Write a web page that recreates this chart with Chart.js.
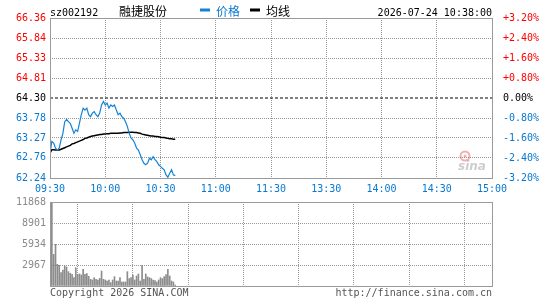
<!DOCTYPE html>
<html><head><meta charset="utf-8">
<script src="https://cdn.jsdelivr.net/npm/chart.js@4/dist/chart.umd.min.js"></script>
<style>
html,body{margin:0;padding:0;background:#fff;}
#wrap{position:relative;width:545px;height:300px;overflow:hidden;}
canvas{position:absolute;left:0;top:0;}
</style></head><body>
<div id="wrap"><canvas id="cp" width="545" height="300"></canvas><canvas id="cv" width="545" height="300"></canvas></div>
<script>
const stockCode = 'sz002192';
const stockName = '融捷股份';
const stamp = '2026-07-24 10:38:00';
const seriesNames = ['价格', '均线'];
const prevClose = 64.30;
const priceTicks = [62.24, 62.76, 63.27, 63.78, 64.30, 64.81, 65.33, 65.84, 66.36];
const pctTicks = [-3.20, -2.40, -1.60, -0.80, 0, 0.80, 1.60, 2.40, 3.20];
const pctLabels = ['-3.20%', '-2.40%', '-1.60%', '-0.80%', '0.00%', '+0.80%', '+1.60%', '+2.40%', '+3.20%'];
const timeLabels = ['09:30', '10:00', '10:30', '11:00', '11:30', '13:30', '14:00', '14:30', '15:00'];
const timeTicks = [0, 30, 60, 90, 120, 150, 180, 210, 240];
const volTicks = [0, 2967, 5934, 8901, 11868];
const copyrightText = 'Copyright 2026 SINA.COM';
const urlText = 'http://finance.sina.com.cn';

const price = [62.88, 63.18, 63.14, 63.01, 62.96, 63.01, 63.22, 63.39, 63.69, 63.75,
  63.69, 63.65, 63.52, 63.39, 63.48, 63.44, 63.65, 63.87, 64.04, 63.99,
  64.04, 63.87, 63.82, 63.91, 63.95, 63.87, 63.82, 63.91, 64.12, 64.21,
  64.12, 64.17, 64.04, 64.12, 64.08, 64.12, 63.99, 63.87, 63.91, 63.82,
  63.78, 63.69, 63.57, 63.39, 63.27, 63.22, 63.14, 63.01, 62.96, 62.84,
  62.71, 62.62, 62.58, 62.62, 62.75, 62.71, 62.79, 62.71, 62.66, 62.58,
  62.54, 62.49, 62.45, 62.32, 62.26, 62.36, 62.45, 62.32, 62.30];
const avgPrice = [62.88, 62.97, 62.97, 62.96, 62.96, 62.96, 62.98, 63.00, 63.02, 63.04,
  63.06, 63.08, 63.12, 63.13, 63.15, 63.17, 63.19, 63.21, 63.23, 63.26,
  63.27, 63.29, 63.31, 63.32, 63.33, 63.34, 63.35, 63.36, 63.36, 63.37,
  63.37, 63.38, 63.38, 63.39, 63.39, 63.39, 63.39, 63.39, 63.40, 63.40,
  63.41, 63.41, 63.41, 63.42, 63.42, 63.42, 63.41, 63.41, 63.40, 63.39,
  63.37, 63.36, 63.35, 63.34, 63.33, 63.32, 63.32, 63.31, 63.31, 63.30,
  63.29, 63.28, 63.28, 63.27, 63.26, 63.25, 63.25, 63.24, 63.24];
const volume = [2967, 11868, 4475, 5890, 3060, 2920, 1885, 2260, 2830, 2690,
  2025, 1790, 1650, 1180, 2590, 1650, 1700, 1555, 2355, 1650,
  1745, 1365, 940, 850, 1180, 940, 850, 1085, 2120, 940,
  850, 705, 850, 470, 850, 1320, 705, 705, 1180, 565,
  565, 565, 2025, 1040, 1180, 1555, 850, 1415, 1700, 705,
  2920, 940, 1700, 1270, 1180, 1040, 850, 755, 565, 850,
  1180, 1040, 1320, 1600, 2355, 1415, 705, 565, 140];

const BLUE_TXT = '#0878d0';
const BLUE_LINE = '#1284d6';
const RED = '#ff0000';
const GRID = '#999999';
const FRAME = '#9a9a9a';
const MONO = '"DejaVu Sans Mono", "Liberation Mono", monospace';
const CJK = '"Noto Sans CJK SC", "Noto Sans", sans-serif';

Chart.defaults.font.family = MONO;
Chart.defaults.font.size = 10;

function gridStyle(yValues, skipValue) {
  return {
    color: ctx => (skipValue !== null && yValues[ctx.index] === skipValue) ? 'rgba(0,0,0,0)' : GRID,
    lineWidth: 1,
    drawTicks: false,
    drawOnChartArea: true,
    display: true
  };
}
const gridBorder = { display: false, dash: [1, 1] };

const framePlugin = {
  id: 'frame',
  afterDraw(chart) {
    const a = chart.chartArea, c = chart.ctx;
    c.save();
    c.strokeStyle = FRAME; c.lineWidth = 1; c.setLineDash([]);
    c.strokeRect(Math.round(a.left) + 0.5, Math.round(a.top) + 0.5,
      Math.round(a.right - a.left), Math.round(a.bottom - a.top));
    c.restore();
  }
};

const headerPlugin = {
  id: 'header',
  beforeDatasetsDraw(chart) {
    const a = chart.chartArea, c = chart.ctx;
    c.save();
    c.globalAlpha = 0.45;
    c.strokeStyle = '#e05050'; c.lineWidth = 2;
    c.beginPath(); c.arc(a.right - 27, a.bottom - 22, 4.5, 0, Math.PI * 2); c.stroke();
    c.fillStyle = '#e05050';
    c.beginPath(); c.arc(a.right - 27, a.bottom - 22, 1.5, 0, Math.PI * 2); c.fill();
    c.fillStyle = '#909090';
    c.font = 'italic bold 12px "DejaVu Sans", sans-serif';
    c.textAlign = 'left'; c.textBaseline = 'alphabetic';
    c.fillText('sina', a.right - 34, a.bottom - 8);
    c.restore();
  },
  afterDraw(chart) {
    const a = chart.chartArea, c = chart.ctx;
    c.save();
    c.textBaseline = 'alphabetic';
    c.fillStyle = '#000';
    c.font = '10px ' + MONO;
    c.textAlign = 'left';
    c.fillText(stockCode, a.left, 15.5);
    c.font = '12px ' + CJK;
    c.textBaseline = 'middle';
    c.fillText(stockName, 119, 11);
    c.fillStyle = BLUE_LINE;
    c.fillRect(200, 8.5, 10, 3);
    c.fillStyle = BLUE_TXT;
    c.fillText(seriesNames[0], 216, 11);
    c.fillStyle = '#000';
    c.fillRect(250, 8.5, 10, 3);
    c.fillText(seriesNames[1], 266, 11);
    c.font = '10px ' + MONO;
    c.textAlign = 'right';
    c.textBaseline = 'alphabetic';
    c.fillText(stamp, a.right, 15.5);
    c.restore();
  }
};

const footerPlugin = {
  id: 'footer',
  afterDraw(chart) {
    const a = chart.chartArea, c = chart.ctx;
    c.save();
    c.fillStyle = '#555';
    c.font = '10px ' + MONO;
    c.textBaseline = 'middle';
    c.textAlign = 'left';
    c.fillText(copyrightText, a.left, 293);
    c.textAlign = 'right';
    c.fillText(urlText, a.right, 293);
    c.restore();
  }
};

function tickColor(ctx) {
  if (ctx.index === 4) return '#000';
  return ctx.index > 4 ? RED : BLUE_TXT;
}

new Chart(document.getElementById('cp'), {
  type: 'line',
  data: {
    datasets: [
      { data: price.map((v, i) => ({ x: i, y: v })), borderColor: BLUE_LINE, borderWidth: 1.2,
        pointRadius: 0, tension: 0, yAxisID: 'y' },
      { data: avgPrice.map((v, i) => ({ x: i, y: v })), borderColor: '#000', borderWidth: 1.5,
        pointRadius: 0, tension: 0, yAxisID: 'y' },
      { data: [{ x: timeTicks[0], y: prevClose }, { x: timeTicks[timeTicks.length - 1], y: prevClose }],
        borderColor: '#000', borderWidth: 1, borderDash: [3, 2], pointRadius: 0, yAxisID: 'y' }
    ]
  },
  options: {
    responsive: false, animation: false, devicePixelRatio: 1,
    layout: { padding: { top: 18, bottom: 100, left: 0, right: 0 } },
    plugins: { legend: { display: false }, tooltip: { enabled: false } },
    scales: {
      x: {
        type: 'linear', min: 0, max: 240,
        afterBuildTicks: s => { s.ticks = timeTicks.map(v => ({ value: v })); },
        ticks: { callback: (v, i) => timeLabels[i], color: BLUE_TXT, autoSkip: false, maxRotation: 0, padding: 5 },
        grid: gridStyle(timeTicks, null),
        border: gridBorder,
        afterFit: s => { s.height = 22; }
      },
      y: {
        position: 'left', min: priceTicks[0], max: priceTicks[priceTicks.length - 1],
        afterBuildTicks: s => { s.ticks = priceTicks.map(v => ({ value: v })); },
        ticks: { callback: (v, i) => priceTicks[i].toFixed(2), color: tickColor, padding: 4 },
        grid: gridStyle(priceTicks, prevClose),
        border: gridBorder,
        afterFit: s => { s.width = 50; }
      },
      y2: {
        position: 'right', min: pctTicks[0], max: pctTicks[pctTicks.length - 1],
        afterBuildTicks: s => { s.ticks = pctTicks.map(v => ({ value: v })); },
        ticks: { callback: (v, i) => pctLabels[i], color: tickColor, padding: 3 },
        grid: { display: false },
        border: { display: false },
        afterFit: s => { s.width = 53; }
      }
    }
  },
  plugins: [headerPlugin, framePlugin]
});

new Chart(document.getElementById('cv'), {
  type: 'bar',
  data: {
    datasets: [{ data: volume.map((v, i) => ({ x: i, y: v })), backgroundColor: '#8c8c8c',
      barThickness: 1, categoryPercentage: 1, barPercentage: 1 }]
  },
  options: {
    responsive: false, animation: false, devicePixelRatio: 1,
    layout: { padding: { top: 202, bottom: 14, left: 0, right: 53 } },
    plugins: { legend: { display: false }, tooltip: { enabled: false } },
    scales: {
      x: {
        type: 'linear', min: 0, max: 240, offset: false,
        afterBuildTicks: s => { s.ticks = timeTicks.map(v => ({ value: v })); },
        ticks: { display: false },
        grid: gridStyle(timeTicks, null),
        border: gridBorder,
        afterFit: s => { s.height = 0; }
      },
      y: {
        min: volTicks[0], max: volTicks[volTicks.length - 1],
        afterBuildTicks: s => { s.ticks = volTicks.map(v => ({ value: v })); },
        ticks: { callback: (v, i) => i === 0 ? '' : String(volTicks[i]), color: '#8a8a8a', padding: 4 },
        grid: gridStyle(volTicks, null),
        border: gridBorder,
        afterFit: s => { s.width = 50; }
      }
    }
  },
  plugins: [framePlugin, footerPlugin]
});
</script>
</body></html>
